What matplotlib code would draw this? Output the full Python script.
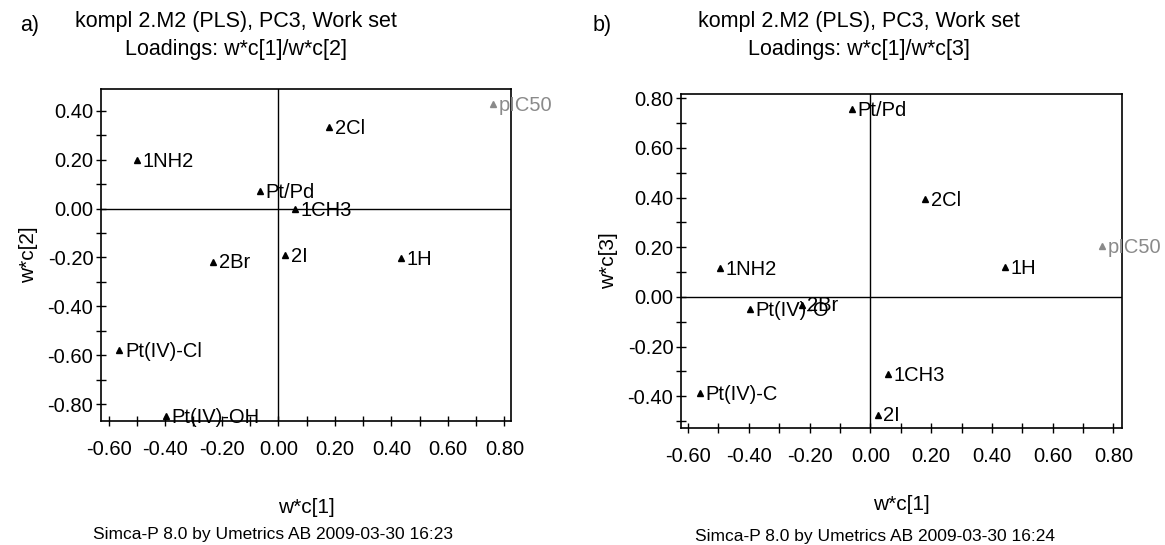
import numpy as np
import matplotlib
matplotlib.use("Agg")
import matplotlib.pyplot as plt
from matplotlib.ticker import MultipleLocator, FormatStrFormatter

plt.rcParams['font.family'] = ['Liberation Sans', 'DejaVu Sans']

# panel a) loadings w*c[1] / w*c[2]
names_a = ['pIC50', '2Cl', '1NH2', 'Pt/Pd', '1CH3', '2Br', '2I', '1H', 'Pt(IV)-Cl', 'Pt(IV)-OH']
x_a = [0.759, 0.181, -0.499, -0.064, 0.059, -0.231, 0.025, 0.434, -0.562, -0.396]
y_a = [0.429, 0.332, 0.199, 0.072, -0.001, -0.217, -0.189, -0.201, -0.579, -0.848]

# panel b) loadings w*c[1] / w*c[3]
names_b = ['Pt/Pd', '2Cl', 'pIC50', '1H', '1NH2', 'Pt(IV)-O', '2Br', '1CH3', '2I', 'Pt(IV)-C']
x_b = [-0.061, 0.181, 0.761, 0.443, -0.496, -0.397, -0.226, 0.059, 0.024, -0.560]
y_b = [0.757, 0.395, 0.205, 0.120, 0.115, -0.049, -0.031, -0.309, -0.474, -0.387]

W, H = 1165, 545
fig = plt.figure(figsize=(W / 100, H / 100), dpi=100)


def px_axes(x0, y0, x1, y1):
    return fig.add_axes([x0 / W, 1 - y1 / H, (x1 - x0) / W, (y1 - y0) / H])


def loading_plot(ax, names, xs, ys, xlim, ylim, ylab, xpad):
    for n, x, y in zip(names, xs, ys):
        c = '#8a8a8a' if n == 'pIC50' else 'black'
        ax.plot(x, y, marker='^', ms=5, color=c, ls='none', clip_on=False)
        ax.annotate(n, (x, y), xytext=(4, -1), textcoords='offset points',
                    va='center', ha='left', fontsize=14.5, color=c,
                    annotation_clip=False)
    ax.axhline(0, color='black', lw=1)
    ax.axvline(0, color='black', lw=1)
    ax.set_xlim(*xlim)
    ax.set_ylim(*ylim)
    ax.xaxis.set_major_locator(MultipleLocator(0.2))
    ax.xaxis.set_minor_locator(MultipleLocator(0.1))
    ax.yaxis.set_major_locator(MultipleLocator(0.2))
    ax.yaxis.set_minor_locator(MultipleLocator(0.1))
    ax.xaxis.set_major_formatter(FormatStrFormatter('%.2f'))
    ax.yaxis.set_major_formatter(FormatStrFormatter('%.2f'))
    ax.tick_params(which='both', direction='inout', length=7, width=1,
                   labelsize=14.5, pad=2)
    ax.tick_params(axis='x', which='both', pad=10)
    ax.set_xlabel('w*c[1]', fontsize=15, labelpad=xpad)
    ax.set_ylabel(ylab, fontsize=15, labelpad=7)
    for s in ax.spines.values():
        s.set_linewidth(1.2)


ax1 = px_axes(101, 89, 511, 421)
loading_plot(ax1, names_a, x_a, y_a, (-0.627, 0.823), (-0.869, 0.489), 'w*c[2]', 28)

ax2 = px_axes(681, 94, 1122, 428)
loading_plot(ax2, names_b, x_b, y_b, (-0.623, 0.828), (-0.528, 0.817), 'w*c[3]', 21)

# titles and footers
fig.text(20 / W, 1 - 25 / H, 'a)', fontsize=15.5, va='center', ha='left')
fig.text(236 / W, 1 - 22 / H, 'kompl 2.M2 (PLS), PC3, Work set', fontsize=15.5, ha='center', va='center')
fig.text(236 / W, 1 - 49 / H, 'Loadings: w*c[1]/w*c[2]', fontsize=15.5, ha='center', va='center')
fig.text(593 / W, 1 - 25 / H, 'b)', fontsize=15.5, va='center', ha='left')
fig.text(859 / W, 1 - 22 / H, 'kompl 2.M2 (PLS), PC3, Work set', fontsize=15.5, ha='center', va='center')
fig.text(859 / W, 1 - 49 / H, 'Loadings: w*c[1]/w*c[3]', fontsize=15.5, ha='center', va='center')

fig.text(273 / W, 1 - 535 / H, 'Simca-P 8.0 by Umetrics AB 2009-03-30 16:23', fontsize=12.5, ha='center', va='center')
fig.text(875 / W, 1 - 536 / H, 'Simca-P 8.0 by Umetrics AB 2009-03-30 16:24', fontsize=12.5, ha='center', va='center')

fig.savefig('out.png', dpi=100)
